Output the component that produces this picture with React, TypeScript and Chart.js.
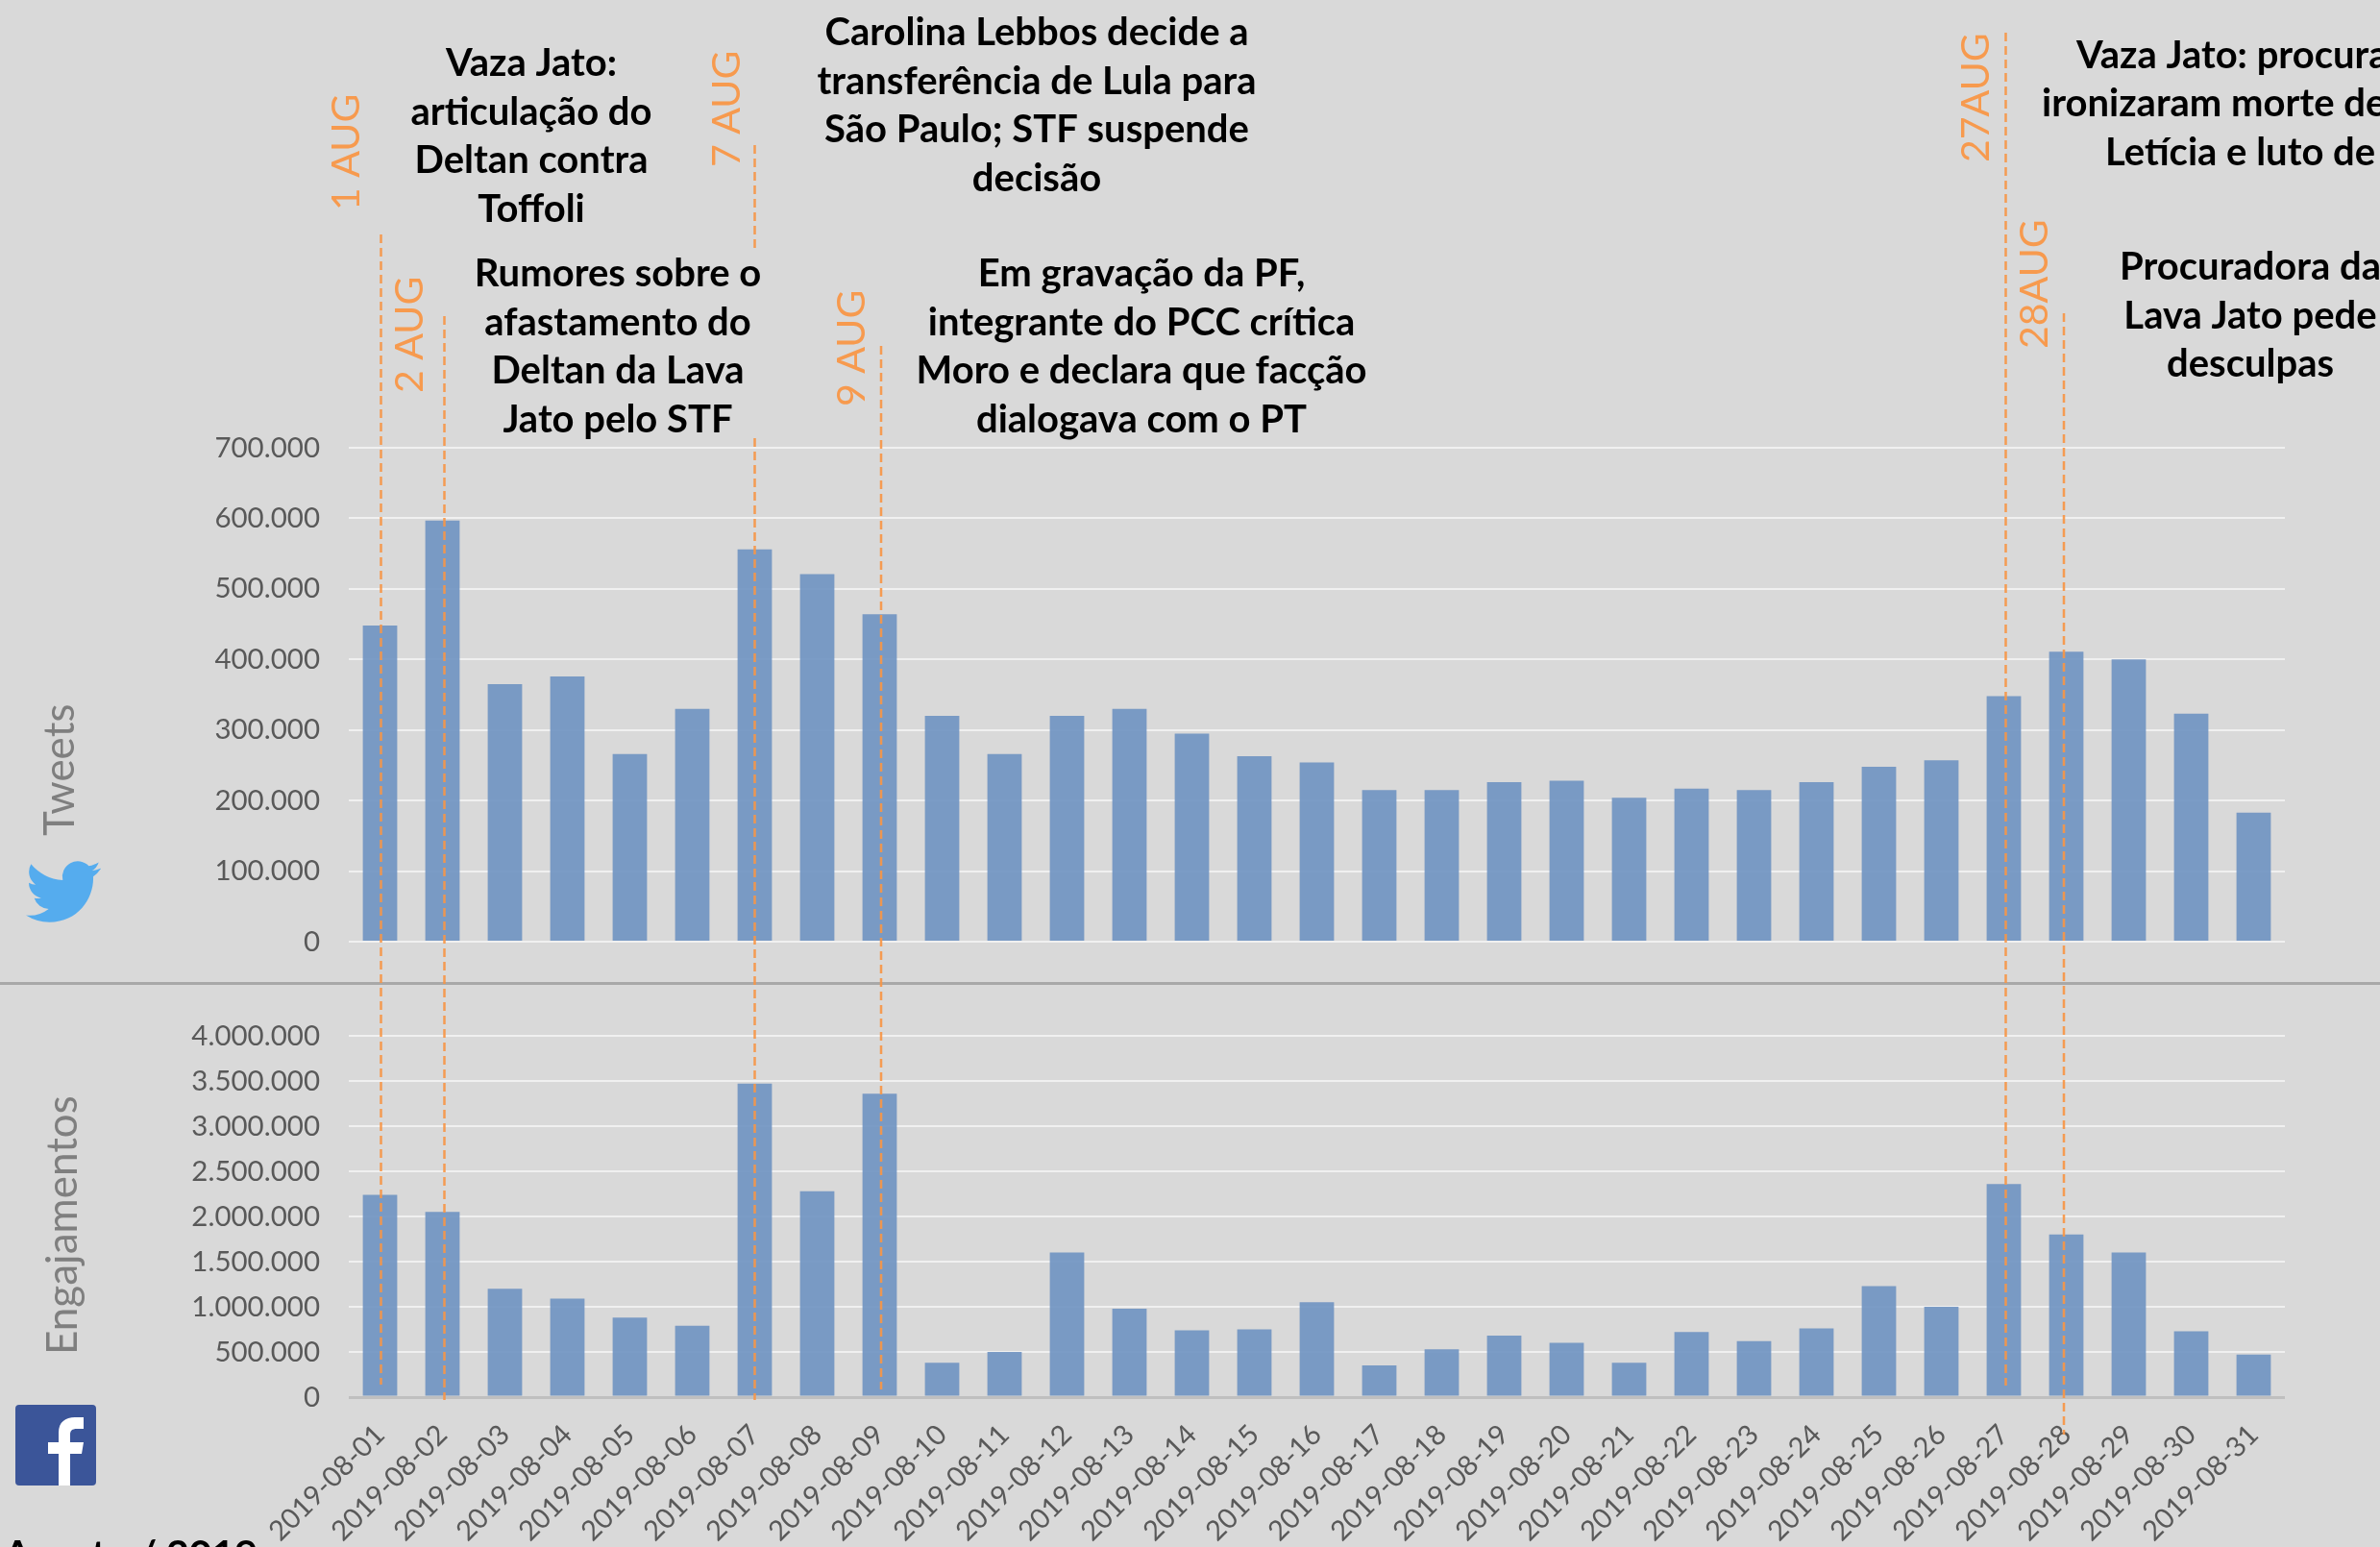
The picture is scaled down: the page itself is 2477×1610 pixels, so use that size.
import React, { useEffect, useRef } from "react";
import { Chart, registerables } from "chart.js";

Chart.register(...registerables);

const categories = [
  "2019-08-01","2019-08-02","2019-08-03","2019-08-04","2019-08-05","2019-08-06","2019-08-07","2019-08-08",
  "2019-08-09","2019-08-10","2019-08-11","2019-08-12","2019-08-13","2019-08-14","2019-08-15","2019-08-16",
  "2019-08-17","2019-08-18","2019-08-19","2019-08-20","2019-08-21","2019-08-22","2019-08-23","2019-08-24",
  "2019-08-25","2019-08-26","2019-08-27","2019-08-28","2019-08-29","2019-08-30","2019-08-31",
];
const tweets = [
  448000,597000,365000,376000,266000,330000,556000,521000,464000,320000,266000,320000,330000,295000,263000,254000,
  215000,215000,226000,228000,204000,217000,215000,226000,248000,257000,348000,411000,400000,323000,183000,
];
const engajamentos = [
  2240000,2050000,1200000,1090000,880000,790000,3470000,2280000,3360000,380000,500000,1600000,980000,740000,750000,1050000,
  350000,530000,680000,600000,380000,720000,620000,760000,1230000,1000000,2360000,1800000,1600000,730000,470000,
];
const eventDays = ["2019-08-01", "2019-08-02", "2019-08-07", "2019-08-09", "2019-08-27", "2019-08-28"];
const eventLabels = ["1 AUG", "2 AUG", "7 AUG", "9 AUG", "27AUG", "28AUG"];

// Where the hand-placed annotation layer sits on the page.
const eventLayout = [
  { nudge: 1, labelX: 361, labelBottom: 219, segments: [[244, 1441]] },
  { nudge: 2, labelX: 427, labelBottom: 409, segments: [[329, 1457]] },
  { nudge: 0, labelX: 757, labelBottom: 174, segments: [[151, 261], [456, 1457]] },
  { nudge: 1.5, labelX: 887, labelBottom: 423, segments: [[360, 1446]] },
  { nudge: 2, labelX: 2057, labelBottom: 169, segments: [[34, 1442]] },
  { nudge: -2.5, labelX: 2118, labelBottom: 363, segments: [[326, 1493]] },
];

const notes = [
  { lines: ["Vaza Jato:", "articulação do", "Deltan contra", "Toffoli"], x: 553, y: 66, align: "center" },
  { lines: ["Rumores sobre o", "afastamento do", "Deltan da Lava", "Jato pelo STF"], x: 643, y: 285, align: "center" },
  { lines: ["Carolina Lebbos decide a", "transferência de Lula para", "São Paulo; STF suspende", "decisão"], x: 1079, y: 34, align: "center" },
  { lines: ["Em gravação da PF,", "integrante do PCC crítica", "Moro e declara que facção", "dialogava com o PT"], x: 1188, y: 285, align: "center" },
  { lines: ["Vaza Jato: procura"], x: 2161, y: 58, align: "left" },
  { lines: ["ironizaram morte de"], x: 2125, y: 108, align: "left" },
  { lines: ["Letícia e luto de"], x: 2191, y: 159, align: "left" },
  { lines: ["Procuradora da", "Lava Jato pede", "desculpas"], x: 2342, y: 278, align: "center" },
];

const BIRD =
  "M23.953 4.57a10 10 0 01-2.825.775 4.958 4.958 0 002.163-2.723c-.951.555-2.005.959-3.127 1.184a4.92 4.92 0 00-8.384 4.482C7.69 8.095 4.067 6.13 1.64 3.162a4.822 4.822 0 00-.666 2.475c0 1.71.87 3.213 2.188 4.096a4.904 4.904 0 01-2.228-.616v.06a4.923 4.923 0 003.946 4.827 4.996 4.996 0 01-2.212.085 4.936 4.936 0 004.604 3.417 9.867 9.867 0 01-6.102 2.105c-.39 0-.779-.023-1.17-.067a13.995 13.995 0 007.557 2.209c9.053 0 13.998-7.496 13.998-13.985 0-.21 0-.42-.015-.63A9.935 9.935 0 0024 4.59z";
const F_LOGO =
  "M61 1546 L61 1513 L50 1513 L50 1501 L61 1501 L61 1491 C61 1480 68 1475 78 1475 L87 1475 L87 1487 L80 1487 C75 1487 73 1489 73 1493 L73 1501 L87 1501 L85 1513 L73 1513 L73 1546 Z";

const FONT = "Lato, 'Noto Sans', sans-serif";
const fmt = (v: number) => String(v).replace(/\B(?=(\d{3})+$)/g, ".");

const rotatedText = (c: CanvasRenderingContext2D, t: string, x: number, bottom: number, font: string, color: string) => {
  c.save();
  c.translate(x, bottom);
  c.rotate(-Math.PI / 2);
  c.font = font;
  c.fillStyle = color;
  c.textAlign = "left";
  c.textBaseline = "middle";
  c.fillText(t, 0, 0);
  c.restore();
};

const annotations = {
  id: "annotations",
  beforeDraw(chart: any) {
    const c = chart.ctx as CanvasRenderingContext2D;
    c.save();
    c.fillStyle = "#a8a8a8";
    c.fillRect(0, 1022, chart.width, 3);
    c.restore();
  },
  afterDatasetsDraw(chart: any) {
    const c = chart.ctx as CanvasRenderingContext2D;
    const x = chart.scales.x;
    c.save();
    c.strokeStyle = "rgba(247,150,70,0.92)";
    c.lineWidth = 2.5;
    c.setLineDash([9, 5]);
    eventDays.forEach((d, i) => {
      const e = eventLayout[i];
      const px = x.getPixelForValue(categories.indexOf(d)) + e.nudge;
      e.segments.forEach(([a, b]) => {
        c.beginPath();
        c.moveTo(px, a);
        c.lineTo(px, b);
        c.stroke();
      });
    });
    c.restore();

    eventLabels.forEach((l, i) =>
      rotatedText(c, l, eventLayout[i].labelX, eventLayout[i].labelBottom, `41px ${FONT}`, "#f79a4e")
    );
    rotatedText(c, "Tweets", 63, 870, `44px ${FONT}`, "#7f7f7f");
    rotatedText(c, "Engajamentos", 66, 1410, `44px ${FONT}`, "#7f7f7f");

    c.save();
    c.fillStyle = "#000";
    c.font = `bold 40px ${FONT}`;
    c.textBaseline = "middle";
    notes.forEach((n) => {
      c.textAlign = n.align as CanvasTextAlign;
      n.lines.forEach((l, i) => c.fillText(l, n.x, n.y + i * 50.7));
    });
    c.textAlign = "left";
    c.textBaseline = "alphabetic";
    c.font = `bold 41px ${FONT}`;
    c.fillText("Agosto / 2019", 4, 1632);
    c.restore();

    c.save();
    c.translate(27, 889);
    c.scale(3.25, 3.25);
    c.fillStyle = "#55acee";
    c.fill(new Path2D(BIRD));
    c.restore();

    c.save();
    c.fillStyle = "#3b5599";
    c.beginPath();
    c.roundRect(16, 1462, 84, 84, 4);
    c.fill();
    c.fillStyle = "#fff";
    c.fill(new Path2D(F_LOGO));
    c.restore();
  },
};

const yTicks = {
  color: "#595959",
  padding: 30,
  autoSkip: false,
  font: { family: FONT, size: 29.5 },
  callback: (v: any) => fmt(Number(v)),
};

export default function App() {
  const ref = useRef<HTMLCanvasElement>(null);
  useEffect(() => {
    document.body.style.margin = "0";
    document.body.style.background = "#d9d9d9";
    const chart = new Chart(ref.current!, {
      type: "bar",
      data: {
        labels: categories,
        datasets: [
          { label: "Tweets", data: tweets, yAxisID: "yTop", grouped: false, backgroundColor: "rgba(113,149,194,0.92)", barPercentage: 0.55, categoryPercentage: 1 },
          { label: "Engajamentos", data: engajamentos, yAxisID: "yBot", grouped: false, backgroundColor: "rgba(113,149,194,0.92)", barPercentage: 0.55, categoryPercentage: 1 },
        ],
      },
      options: {
        responsive: false,
        animation: false,
        layout: { padding: { top: 466, right: 99, left: 0, bottom: 0 } },
        plugins: { legend: { display: false }, tooltip: { enabled: false } },
        scales: {
          x: {
            grid: { display: false },
            border: { display: false },
            ticks: { autoSkip: false, maxRotation: 45, minRotation: 45, color: "#595959", padding: 14, font: { family: FONT, size: 29 } },
            afterFit: (s: any) => { s.height = 156; },
          },
          yTop: {
            position: "left",
            stack: "panels",
            stackWeight: 514,
            weight: 3,
            min: 0,
            max: 700000,
            ticks: { ...yTicks, stepSize: 100000 },
            grid: { color: "#f0f0f0", lineWidth: 2, drawTicks: false },
            border: { display: false },
            afterFit: (s: any) => { s.width = 363; },
          },
          yGap: {
            position: "left",
            stack: "panels",
            stackWeight: 98,
            weight: 2,
            display: false,
            afterFit: (s: any) => { s.width = 363; },
          },
          yBot: {
            position: "left",
            stack: "panels",
            stackWeight: 376,
            weight: 1,
            min: 0,
            max: 4000000,
            ticks: { ...yTicks, stepSize: 500000 },
            grid: {
              color: (ctx: any) => (ctx.tick.value === 0 ? "#bfbfbf" : "#f0f0f0"),
              lineWidth: (ctx: any) => (ctx.tick.value === 0 ? 3 : 2),
              drawTicks: false,
            },
            border: { display: false },
            afterFit: (s: any) => { s.width = 363; },
          },
        },
      } as any,
      plugins: [annotations],
    });
    return () => chart.destroy();
  }, []);
  return (
    <div style={{ position: "absolute", left: 0, top: 0, width: 2477, height: 1610, overflow: "hidden", background: "#d9d9d9" }}>
      <canvas ref={ref} width={2477} height={1610} style={{ display: "block" }} />
    </div>
  );
}
